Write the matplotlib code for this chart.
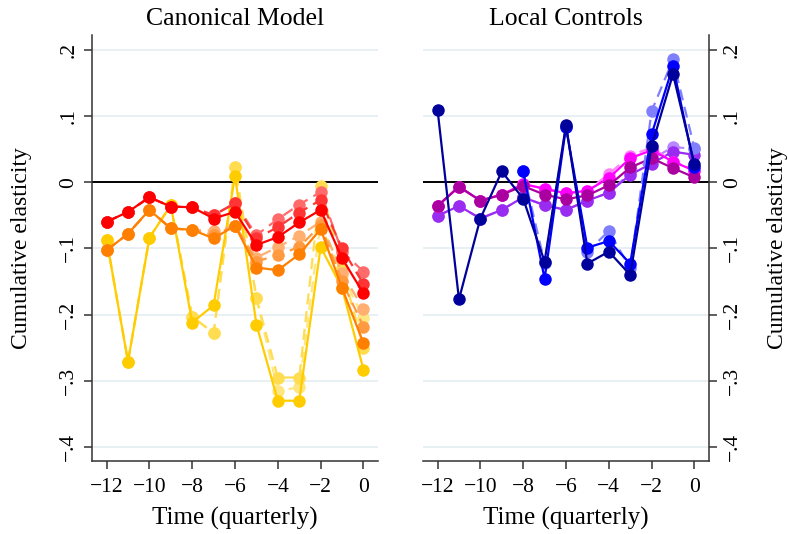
import numpy as np
import matplotlib
matplotlib.use("Agg")
import matplotlib.pyplot as plt

plt.rcParams['font.family'] = ['Liberation Serif', 'DejaVu Serif']

nan = np.nan
quarters = [-12, -11, -10, -9, -8, -7, -6, -5, -4, -3, -2, -1, 0]
yticks = [-0.4, -0.3, -0.2, -0.1, 0, 0.1, 0.2]
ytick_labels = ['\u2212.4', '\u2212.3', '\u2212.2', '\u2212.1', '0', '.1', '.2']
xticks = [-12, -10, -8, -6, -4, -2, 0]
xtick_labels = ['\u221212', '\u221210', '\u22128', '\u22126', '\u22124', '\u22122', '0']

# Canonical model
gold_2 = [-0.087, -0.271, -0.084, -0.035, -0.203, -0.228, 0.023, -0.175, -0.315, -0.310, -0.060, -0.140, -0.205]
gold_1 = [-0.087, -0.271, -0.084, -0.035, -0.203, -0.228, 0.023, -0.175, -0.295, -0.295, -0.006, -0.130, -0.250]
gold_0 = [-0.087, -0.271, -0.084, -0.035, -0.212, -0.186, 0.009, -0.215, -0.330, -0.330, -0.098, -0.160, -0.283]
orange_2 = [-0.103, -0.078, -0.042, -0.070, -0.072, -0.074, -0.066, -0.114, -0.098, -0.081, -0.060, -0.137, -0.192]
orange_1 = [-0.103, -0.078, -0.042, -0.070, -0.072, -0.080, -0.066, -0.120, -0.110, -0.098, -0.065, -0.150, -0.218]
orange_0 = [-0.103, -0.078, -0.042, -0.070, -0.072, -0.085, -0.066, -0.129, -0.133, -0.109, -0.071, -0.160, -0.243]
red_2 = [-0.060, -0.045, -0.023, -0.037, -0.038, -0.050, -0.032, -0.080, -0.056, -0.034, -0.015, -0.105, -0.135]
red_1 = [-0.060, -0.045, -0.023, -0.037, -0.038, -0.050, -0.032, -0.085, -0.068, -0.046, -0.027, -0.100, -0.154]
red_0 = [-0.060, -0.045, -0.023, -0.037, -0.038, -0.055, -0.045, -0.095, -0.083, -0.061, -0.042, -0.115, -0.168]

# Local controls
purple_1 = [-0.051, -0.036, -0.055, -0.042, -0.023, -0.035, -0.042, -0.028, -0.016, 0.014, 0.034, 0.053, 0.050]
purple_0 = [-0.051, -0.036, -0.055, -0.042, -0.023, -0.035, -0.042, -0.028, -0.016, 0.011, 0.028, 0.046, 0.041]
magenta_1 = [-0.036, -0.007, -0.028, -0.019, -0.003, -0.010, -0.017, -0.013, 0.012, 0.040, 0.052, 0.031, 0.020]
magenta_0 = [-0.036, -0.007, -0.028, -0.019, -0.003, -0.010, -0.017, -0.013, 0.006, 0.036, 0.048, 0.031, 0.017]
plum_0 = [-0.036, -0.007, -0.028, -0.019, -0.006, -0.019, -0.026, -0.020, -0.005, 0.022, 0.036, 0.021, 0.007]
lblue_1 = [nan, nan, nan, nan, 0.016, -0.122, 0.083, -0.105, -0.074, -0.130, 0.107, 0.185, 0.051]
blue_0 = [nan, nan, nan, nan, 0.016, -0.146, 0.083, -0.099, -0.089, -0.123, 0.072, 0.175, 0.023]
navy_0 = [0.109, -0.177, -0.055, 0.016, -0.025, -0.120, 0.086, -0.123, -0.105, -0.140, 0.054, 0.163, 0.027]

left_series = [
    (gold_2, '#ffe680', '--'), (gold_1, '#ffdc50', '--'), (gold_0, '#ffcc00', '-'),
    (orange_2, '#ffb070', '--'), (orange_1, '#ff9a40', '--'), (orange_0, '#ff7f00', '-'),
    (red_2, '#ff6a6a', '--'), (red_1, '#ff3535', '--'), (red_0, '#ff0000', '-'),
]
right_series = [
    (purple_1, '#b987ff', '--'), (purple_0, '#9a2cf2', '-'),
    (magenta_1, '#ff80ff', '--'), (magenta_0, '#ff00ff', '-'),
    (plum_0, '#aa00a0', '-'),
    (lblue_1, '#8080ff', '--'), (blue_0, '#0000ff', '-'), (navy_0, '#00009a', '-'),
]

fig = plt.figure(figsize=(7.88, 5.34), dpi=100)
ax1 = fig.add_axes([0.1168, 0.1367, 0.3629, 0.7978])
ax2 = fig.add_axes([0.5368, 0.1367, 0.3629, 0.7978])

for ax, series, title, side in [(ax1, left_series, 'Canonical Model', 'left'),
                                (ax2, right_series, 'Local Controls', 'right')]:
    for yv in yticks:
        if yv != 0:
            ax.axhline(yv, color='#e9f0f3', lw=1.4, zorder=0)
    ax.axhline(0, color='black', lw=1.4, zorder=1)
    for vals, col, ls in series:
        ax.plot(quarters, vals, color=col, ls=ls, lw=1.6, marker='o', ms=9,
                markeredgewidth=0, zorder=2, dashes=(5, 3) if ls == '--' else (None, None))
    ax.set_xlim(-12.68, 0.68)
    ax.set_ylim(-0.421, 0.222)
    ax.set_xticks(xticks)
    ax.set_xticklabels(xtick_labels, fontsize=15.5)
    ax.set_yticks(yticks)
    ax.set_yticklabels(ytick_labels, fontsize=15.5, rotation=90, va='center')
    ax.tick_params(length=6, width=1.1, color='#333333', pad=4)
    ax.tick_params(axis='x', pad=6)
    ax.text(0.5, 1.037, title, transform=ax.transAxes, ha='center', va='center',
            fontsize=18.5)
    ax.set_xlabel('Time (quarterly)', fontsize=18, va='center')
    ax.xaxis.set_label_coords(0.5, -0.134)
    ax.spines['top'].set_visible(False)
    if side == 'left':
        ax.spines['right'].set_visible(False)
    else:
        ax.spines['left'].set_visible(False)
        ax.yaxis.tick_right()
        ax.yaxis.set_label_position('right')
    for s in ax.spines.values():
        s.set_linewidth(1.1)
        s.set_color('#333333')
    ax.set_ylabel('Cumulative elasticity', fontsize=17, va='center')
    if side == 'left':
        ax.yaxis.set_label_coords(-0.245, 0.5)
    else:
        ax.yaxis.set_label_coords(1.241, 0.5)

fig.savefig('out.png', dpi=100)
